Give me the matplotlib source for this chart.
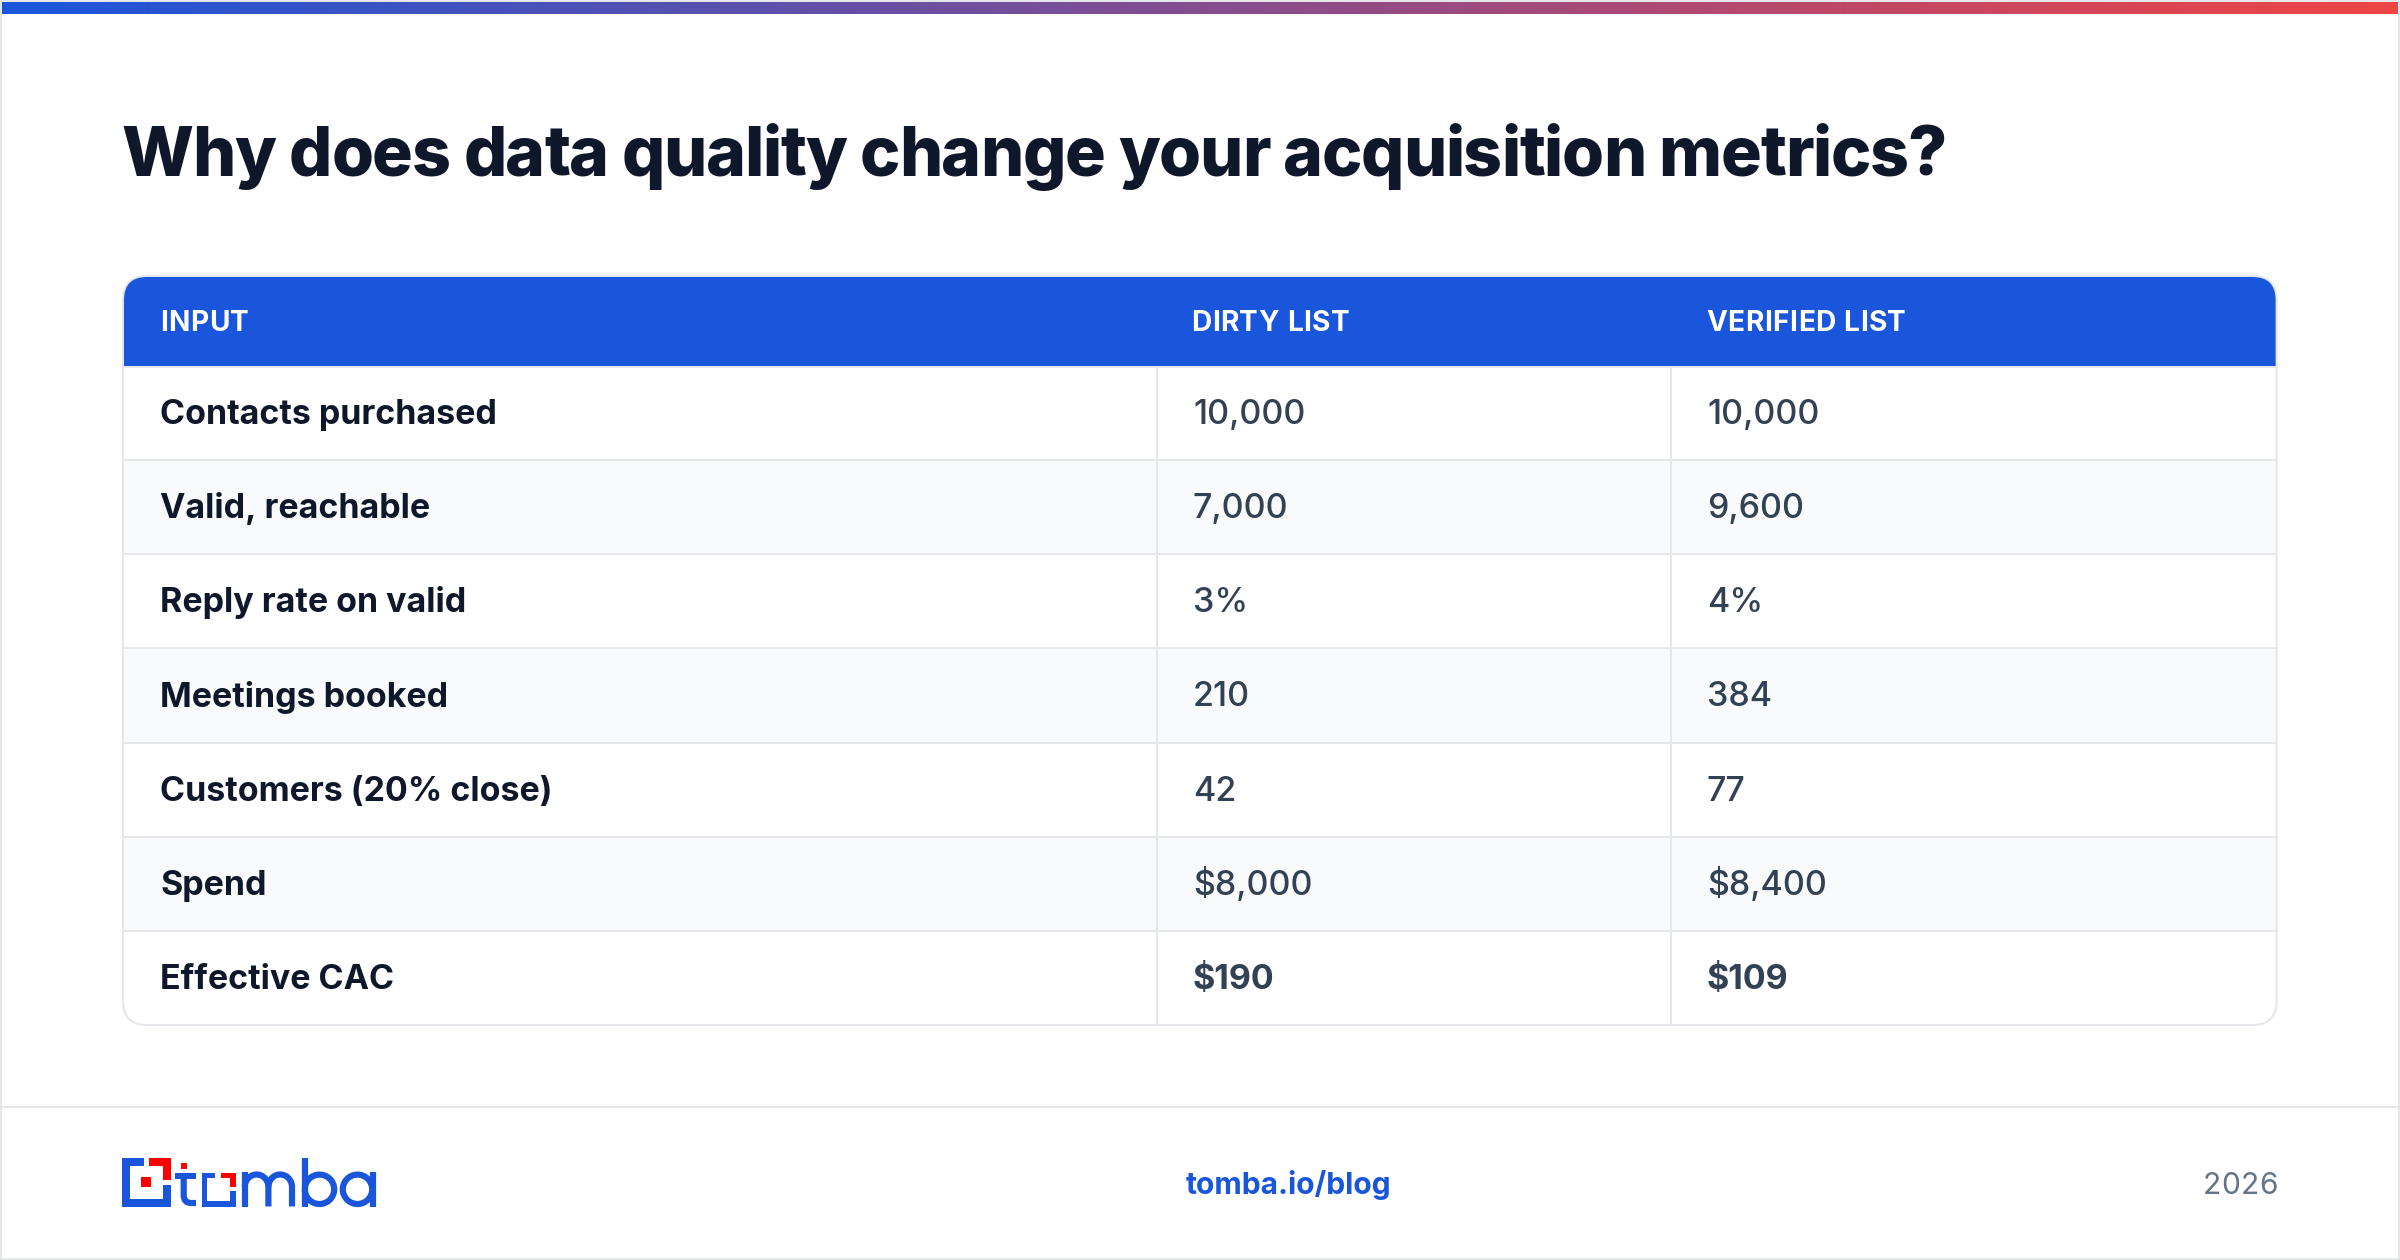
import matplotlib
matplotlib.use("Agg")
import matplotlib.pyplot as plt
from matplotlib.patches import Rectangle, FancyBboxPatch, PathPatch, Circle
from matplotlib.path import Path
from matplotlib.text import Text
from matplotlib.transforms import IdentityTransform, Bbox
import numpy as np

INK = "#0f172a"
BODY = "#334155"
BLUE = "#1a56db"
RED = "#ef4444"
GRID = "#e5e7eb"
ZEBRA = "#f9fafb"
MUTED = "#64748b"
LOGO_RED = "#ff0000"

title = "Why does data quality change your acquisition metrics?"
headers = ["INPUT", "DIRTY LIST", "VERIFIED LIST"]
inputs = ["Contacts purchased", "Valid, reachable", "Reply rate on valid", "Meetings booked",
          "Customers (20% close)", "Spend", "Effective CAC"]
dirty = ["10,000", "7,000", "3%", "210", "42", "$8,000", "$190"]
verified = ["10,000", "9,600", "4%", "384", "77", "$8,400", "$109"]

W, H = 2400, 1260
PX = 0.72
plt.rcParams["font.family"] = ["Inter", "DejaVu Sans"]
fig = plt.figure(figsize=(24, 12.6), dpi=100, facecolor="white")
ax = fig.add_axes([0, 0, 1, 1])
ax.set_xlim(0, W); ax.set_ylim(H, 0); ax.axis("off")


class TrackedText(Text):
    """One text artist, drawn with CSS-like letter spacing (in pixels)."""
    def __init__(self, *a, tracking=0.0, **k):
        super().__init__(*a, **k)
        self.tracking = tracking

    def get_window_extent(self, renderer=None, dpi=None):
        bb = super().get_window_extent(renderer, dpi)
        return Bbox.from_extents(bb.x0, bb.y0, bb.x1 + self.tracking * (len(self.get_text()) - 1), bb.y1)

    def draw(self, renderer):
        s = self.get_text()
        prop = self.get_fontproperties()
        x0, y0 = self.get_transform().transform(self.get_position())
        wid = lambda t: renderer.get_text_width_height_descent(t, prop, False)[0]
        for i, ch in enumerate(s):
            if ch == " ":
                continue
            x = x0 + wid(s[:i + 1]) - wid(ch) + i * self.tracking
            t = Text(x, y0, ch, fontproperties=prop, color=self.get_color(), va="baseline", ha="left",
                     transform=IdentityTransform())
            t.set_figure(self.get_figure())
            t.draw(renderer)


def tracked(x, y, s, tracking, **k):
    return ax.add_artist(TrackedText(x, y, s, tracking=tracking, va="baseline", ha="left", **k))


# outer border and gradient bar
ax.add_patch(Rectangle((1, 1), W - 2, H - 2, fc="none", ec=GRID, lw=2 * PX))
c0 = np.array(matplotlib.colors.to_rgb(BLUE)); c1 = np.array(matplotlib.colors.to_rgb(RED))
grad = np.linspace(0, 1, 512)[None, :, None] * (c1 - c0) + c0
ax.imshow(grad, extent=(2, W - 2, 14, 2), aspect="auto", interpolation="bilinear", zorder=2)
ax.set_xlim(0, W); ax.set_ylim(H, 0)

tracked(121.5, 176, title, -1.2, fontsize=68 * PX, fontweight=800, color=INK)

# table
L, R, T, B = 123, 2276.6, 276, 1025
HDR = 366
COLS = [L, 1157, 1671, R]
TX = [160, 1193, 1707]
n = len(inputs)
rh = (B - HDR) / n
BASE = 11  # baseline below row centre
clip = FancyBboxPatch((L, T), R - L, B - T, boxstyle="round,pad=0,rounding_size=24", fc="white", ec="none")
ax.add_patch(clip)
hdr = Rectangle((L, T), R - L, HDR - T, fc=BLUE, ec="none", zorder=1)
ax.add_patch(hdr); hdr.set_clip_path(clip)
for i in range(n):
    y0 = HDR + i * rh
    if i % 2 == 1:
        ax.add_patch(Rectangle((L, y0), R - L, rh, fc=ZEBRA, ec="none", zorder=1))
    if i < n - 1:
        ax.plot([L, R], [y0 + rh] * 2, color=GRID, lw=2 * PX, zorder=2, solid_capstyle="butt")
    yb = y0 + rh / 2 + BASE
    w = 700 if i == n - 1 else 500
    ax.text(TX[0], yb, inputs[i], fontsize=34 * PX, fontweight=700, color=INK, va="baseline")
    ax.text(TX[1], yb, dirty[i], fontsize=34 * PX, fontweight=w, color=BODY, va="baseline")
    ax.text(TX[2], yb, verified[i], fontsize=34 * PX, fontweight=w, color=BODY, va="baseline")
for x in COLS[1:3]:
    ax.plot([x, x], [HDR, B], color=GRID, lw=2 * PX, zorder=2, solid_capstyle="butt")
ax.plot([L, R], [HDR + 1, HDR + 1], color=GRID, lw=2 * PX, zorder=2, solid_capstyle="butt")
for x, h in zip([160, 1191, 1706], headers):
    tracked(x, (T + HDR) / 2 + 10, h, 0.56, fontsize=28 * PX, fontweight="bold", color="white", zorder=3)
ax.add_patch(FancyBboxPatch((L, T), R - L, B - T, boxstyle="round,pad=0,rounding_size=24",
                            fc="none", ec=GRID, lw=2 * PX, zorder=4))

# footer
ax.plot([2, W - 2], [1107, 1107], color=GRID, lw=2 * PX)
ax.text(1186, 1194, "tomba.io/blog", fontsize=30 * PX, fontweight="bold", color=BLUE, va="baseline", ha="left")
tracked(2203, 1194, "2026", 0.3, fontsize=30 * PX, color=MUTED)


# logo (decorative wordmark, drawn in pixel coordinates)
def poly(pts, color):
    ax.add_patch(plt.Polygon(pts, closed=True, fc=color, ec="none", zorder=5))


def box(x0, y0, x1, y1, color):
    poly([(x0, y0), (x1, y0), (x1, y1), (x0, y1)], color)


poly([(122, 1158), (143.5, 1158), (143.5, 1166), (130, 1166), (130, 1198.7), (162.7, 1198.7),
      (162.7, 1185), (170.7, 1185), (170.7, 1206.7), (122, 1206.7)], BLUE)
poly([(149, 1158), (170.7, 1158), (170.7, 1180), (162.7, 1180), (162.7, 1166), (149, 1166)], LOGO_RED)
box(141.3, 1177.3, 151, 1186.7, LOGO_RED)
# t
box(180.5, 1163.3, 187, 1169.3, LOGO_RED)
box(175, 1173, 196, 1178.7, BLUE)
s = 0.72 * 6.2
ax.add_patch(PathPatch(Path([(183.7, 1173), (183.7, 1195), (183.7, 1203), (191, 1203), (196, 1203)],
                            [Path.MOVETO, Path.LINETO, Path.CURVE3, Path.CURVE3, Path.LINETO]),
                       fc="none", ec=BLUE, lw=s, capstyle="butt", zorder=5))
# o
poly([(201.7, 1172.7), (215, 1172.7), (215, 1178.3), (207.3, 1178.3), (207.3, 1201), (230, 1201),
      (230, 1191), (235.7, 1191), (235.7, 1206.7), (201.7, 1206.7)], BLUE)
poly([(220.7, 1172.7), (235.7, 1172.7), (235.7, 1187.3), (230, 1187.3), (230, 1178.3), (220.7, 1178.3)], LOGO_RED)
# m
sw = 6.2
lw = sw * PX
ax.add_patch(PathPatch(Path([(244.8, 1206.5), (244.8, 1172)]), fc="none", ec=BLUE, lw=lw, capstyle="butt", zorder=5))
for xa, xb in [(244.8, 268.4), (268.4, 292)]:
    r = (xb - xa) / 2
    th = np.linspace(np.pi, 0, 30)
    xs = (xa + xb) / 2 + r * np.cos(th)
    ys = 1187 - 12.5 * np.sin(th)
    pts = [(xa, 1187)] + list(zip(xs, ys)) + [(xb, 1206.5)]
    ax.add_patch(PathPatch(Path(pts), fc="none", ec=BLUE, lw=lw, capstyle="butt", joinstyle="round", zorder=5))
# b
ax.add_patch(PathPatch(Path([(305, 1158), (305, 1206.5)]), fc="none", ec=BLUE, lw=lw, capstyle="butt", zorder=5))
ax.add_patch(Circle((319.5, 1189.3), 14.7, fc="none", ec=BLUE, lw=lw, zorder=5))
# a
ax.add_patch(Circle((357.5, 1189.3), 14.7, fc="none", ec=BLUE, lw=lw, zorder=5))
ax.add_patch(PathPatch(Path([(372.5, 1172), (372.5, 1206.5)]), fc="none", ec=BLUE, lw=lw, capstyle="butt", zorder=5))

fig.savefig("out.png", dpi=100)
